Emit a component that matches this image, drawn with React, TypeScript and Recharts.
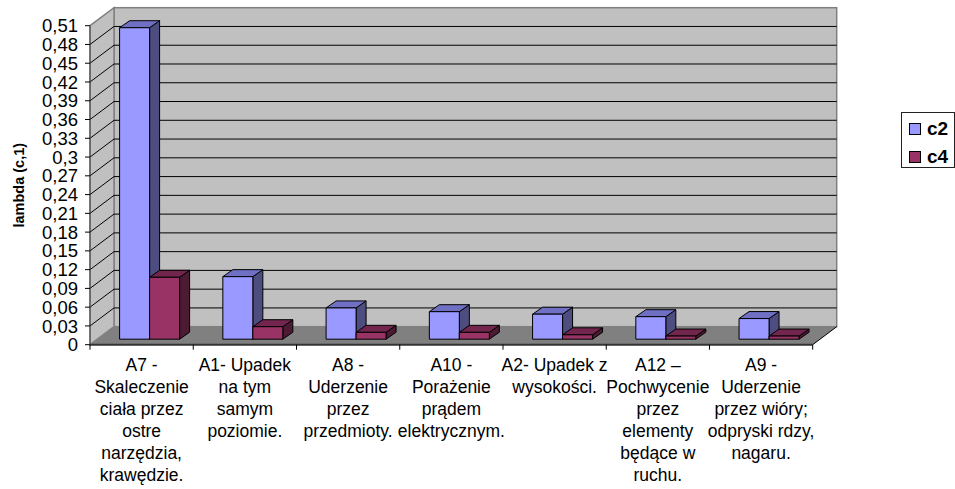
import { BarChart, Bar, XAxis, YAxis, CartesianGrid, Legend } from 'recharts'

const categories = [
  'A7 -\nSkaleczenie\nciała przez\nostre\nnarzędzia,\nkrawędzie.',
  'A1- Upadek\nna tym\nsamym\npoziomie.',
  'A8 -\nUderzenie\nprzez\nprzedmioty.',
  'A10 -\nPorażenie\nprądem\nelektrycznym.',
  'A2- Upadek z\nwysokości.',
  'A12 –\nPochwycenie\nprzez\nelementy\nbędące w\nruchu.',
  'A9 -\nUderzenie\nprzez wióry;\nodpryski rdzy,\nnagaru.',
]
const c2Values = [0.498, 0.1, 0.05, 0.044, 0.04, 0.036, 0.033]
const c4Values = [0.099, 0.02, 0.011, 0.011, 0.007, 0.005, 0.005]
const yTicks = [0, 0.03, 0.06, 0.09, 0.12, 0.15, 0.18, 0.21, 0.24, 0.27, 0.3, 0.33, 0.36, 0.39, 0.42, 0.45, 0.48, 0.51]

const tableData = categories.map((name, i) => ({ name, c2: c2Values[i], c4: c4Values[i] }))

const FONT = '"Liberation Sans", Arial, sans-serif'
// depth of the fake 3D box
const DEPTH_X = 24
const DEPTH_Y = 18
// where the bars sit inside the box, and how deep they are
const BAR_SHIFT_X = 7.6
const BAR_SHIFT_Y = 5.5
const BAR_DX = 10
const BAR_DY = 7

function Walls({ x, y, width, height }: any) {
  const r = x + width
  const b = y + height
  return (
    <g>
      <rect x={x + DEPTH_X} y={y - DEPTH_Y} width={width} height={height} fill="#c0c0c0" stroke="#808080" strokeWidth={1.5} />
      <polygon
        points={`${x},${y} ${x + DEPTH_X},${y - DEPTH_Y} ${x + DEPTH_X},${b - DEPTH_Y} ${x},${b}`}
        fill="#c0c0c0"
        stroke="#808080"
        strokeWidth={1.5}
      />
      <polygon
        points={`${x},${b} ${r},${b} ${r + DEPTH_X},${b - DEPTH_Y} ${x + DEPTH_X},${b - DEPTH_Y}`}
        fill="#808080"
      />
      <line x1={r} y1={b} x2={r + DEPTH_X} y2={b - DEPTH_Y} stroke="#000" strokeWidth={1} />
    </g>
  )
}

// the grid is the only layer under the bars, so the walls go in with its first line
function gridLine(p: any) {
  const last = yTicks.length - 1
  const walls = p.index === 0 ? <Walls x={p.x} y={p.y} width={p.width} height={p.height} /> : null
  if (p.index === 0 || p.index === last) return <g key={p.key ?? p.index}>{walls}</g>
  return (
    <g key={p.key ?? p.index}>
      <line x1={p.x1} y1={p.y1} x2={p.x1 + DEPTH_X} y2={p.y1 - DEPTH_Y} stroke="#000" strokeWidth={1} />
      <line x1={p.x1 + DEPTH_X} y1={p.y1 - DEPTH_Y} x2={p.x2 + DEPTH_X} y2={p.y1 - DEPTH_Y} stroke="#000" strokeWidth={1} />
    </g>
  )
}

const bar3d = (front: string, side: string, top: string) => (p: any) => {
  const x = p.x + BAR_SHIFT_X
  const y = p.y - BAR_SHIFT_Y
  const w = p.width
  const h = p.height
  return (
    <g stroke="#000" strokeWidth={1} strokeLinejoin="round">
      <polygon points={`${x + w},${y} ${x + w + BAR_DX},${y - BAR_DY} ${x + w + BAR_DX},${y + h - BAR_DY} ${x + w},${y + h}`} fill={side} />
      <polygon points={`${x},${y} ${x + BAR_DX},${y - BAR_DY} ${x + w + BAR_DX},${y - BAR_DY} ${x + w},${y}`} fill={top} />
      <rect x={x} y={y} width={w} height={h} fill={front} />
    </g>
  )
}

function CategoryTick({ x, y, index, payload }: any) {
  const half = 103.2 / 2
  const lines = String(payload.value).split('\n')
  return (
    <g>
      <line x1={x - half} y1={y} x2={x - half} y2={y + 5} stroke="#000" />
      {index === categories.length - 1 && <line x1={x + half} y1={y} x2={x + half} y2={y + 5} stroke="#000" />}
      <text x={x} y={y + 26} textAnchor="middle" fontSize={17.5} fontFamily={FONT} fill="#000">
        {lines.map((l, i) => (
          <tspan key={i} x={x} dy={i === 0 ? 0 : 22}>{l}</tspan>
        ))}
      </text>
    </g>
  )
}

function LegendBox() {
  const rows = [
    { label: 'c2', color: '#9999ff' },
    { label: 'c4', color: '#993366' },
  ]
  return (
    <div style={{ width: 54, height: 56, boxSizing: 'border-box', border: '1px solid #222', background: '#fff', paddingLeft: 7, paddingTop: 4 }}>
      {rows.map((r) => (
        <div key={r.label} style={{ display: 'flex', alignItems: 'center', height: 24, marginBottom: 4, fontFamily: FONT, fontWeight: 700, fontSize: 19, color: '#000' }}>
          <span style={{ display: 'inline-block', width: 10, height: 10, background: r.color, border: '1px solid #000', marginRight: 6 }} />
          {r.label}
        </div>
      ))}
    </div>
  )
}

export default function App() {
  return (
    <div style={{ position: 'absolute', left: 0, top: 0, width: 955, height: 489, background: '#fff' }}>
      <BarChart
        width={955}
        height={489}
        data={tableData}
        margin={{ top: 25.7, right: 88.3, bottom: 0, left: 0 }}
        barCategoryGap={22}
        barGap={0}
      >
        <CartesianGrid horizontal={gridLine} vertical={false} />
        <XAxis
          dataKey="name"
          height={144.3}
          interval={0}
          tickLine={false}
          tickSize={0}
          tickMargin={0}
          axisLine={{ stroke: '#333', strokeWidth: 2 }}
          tick={CategoryTick}
        />
        <YAxis
          width={90}
          domain={[0, 0.51]}
          ticks={yTicks}
          interval={0}
          tickSize={5}
          tickMargin={7}
          tickLine={{ stroke: '#000' }}
          axisLine={{ stroke: '#444', strokeWidth: 1 }}
          tick={{ fontSize: 18.5, fontFamily: FONT, fill: '#000' }}
          tickFormatter={(v: number) => String(v).replace('.', ',')}
          label={{ value: 'lambda (c,1)', angle: -90, position: 'insideLeft', offset: 19, textAnchor: 'middle', style: { fontSize: 14.5, fontWeight: 700, fontFamily: FONT, fill: '#000', textAnchor: 'middle' } }}
        />
        <Bar dataKey="c2" isAnimationActive={false} fill="#9999ff" shape={bar3d('#9999ff', '#4d4d80', '#6f6fc4')} />
        <Bar dataKey="c4" isAnimationActive={false} fill="#993366" shape={bar3d('#993366', '#4d1a33', '#73264d')} />
        <Legend layout="vertical" align="right" verticalAlign="middle" content={LegendBox} wrapperStyle={{ position: 'absolute', left: 901, top: 112, width: 54 }} />
      </BarChart>
    </div>
  )
}
